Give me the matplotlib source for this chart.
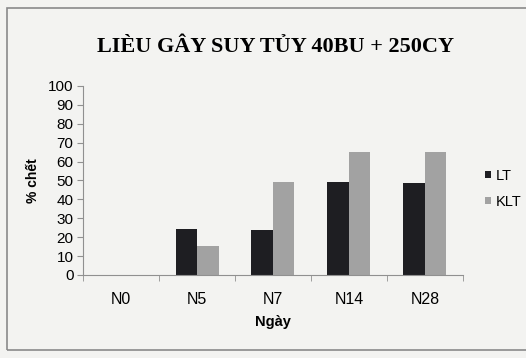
import matplotlib
matplotlib.use("Agg")
import matplotlib.pyplot as plt
import numpy as np
from matplotlib.patches import Rectangle
from matplotlib.ticker import FixedLocator

# Data
days = ['N0', 'N5', 'N7', 'N14', 'N28']
lt = [0, 24.5, 24, 49, 48.5]
klt = [0, 15.5, 49, 65, 65]
yticks = list(range(0, 101, 10))

bg = '#f3f3f1'
fig = plt.figure(figsize=(5.26, 3.58), dpi=100, facecolor=bg)
ax = fig.add_axes([0.158, 0.232, 0.722, 0.528])
ax.set_facecolor(bg)

x = np.arange(len(days))
w = 0.283
ax.bar(x - w / 2, lt, w, color='#1e1e22', label='LT')
ax.bar(x + w / 2, klt, w, color='#a2a2a2', label='KLT')

ax.set_xlim(-0.5, len(days) - 0.5)
ax.set_ylim(0, 100)
ax.set_yticks(yticks)
ax.set_xticks(x)
ax.set_xticklabels(days, fontsize=11.5, family='Liberation Sans')
ax.xaxis.set_minor_locator(FixedLocator(np.arange(-0.5, len(days), 1.0)))
ax.tick_params(axis='x', which='major', length=0, pad=12)
ax.tick_params(axis='x', which='minor', length=4, color='#909090', direction='out')
ax.tick_params(axis='y', length=4, color='#909090', pad=3, labelsize=11)
for lab in ax.get_yticklabels():
    lab.set_family('Liberation Sans')

for s in ['top', 'right']:
    ax.spines[s].set_visible(False)
ax.spines['left'].set_color('#909090')
ax.spines['bottom'].set_color('#909090')

ax.set_ylabel('% chết', fontsize=10, fontweight='bold', family='Liberation Sans', labelpad=6)
ax.set_xlabel('Ngày', fontsize=10.5, fontweight='bold', family='Liberation Sans', labelpad=6)

fig.text(0.523, 0.868, 'LIÈU GÂY SUY TỦY 40BU + 250CY', ha='center', va='center',
         fontsize=16, fontweight='bold', family='Liberation Serif')

ax.legend(loc='upper left', bbox_to_anchor=(1.025, 0.63), frameon=False,
          handlelength=0.4, handleheight=0.4, handletextpad=0.3, labelspacing=0.8,
          prop={'family': 'Liberation Sans', 'size': 10.5})

# outer chart border
fig.patches.append(Rectangle((0.014, 0.022), 1.0, 0.955, transform=fig.transFigure,
                             fill=False, edgecolor='#8a8a8a', linewidth=1.2))

fig.savefig('out.png', dpi=100, facecolor=bg)
